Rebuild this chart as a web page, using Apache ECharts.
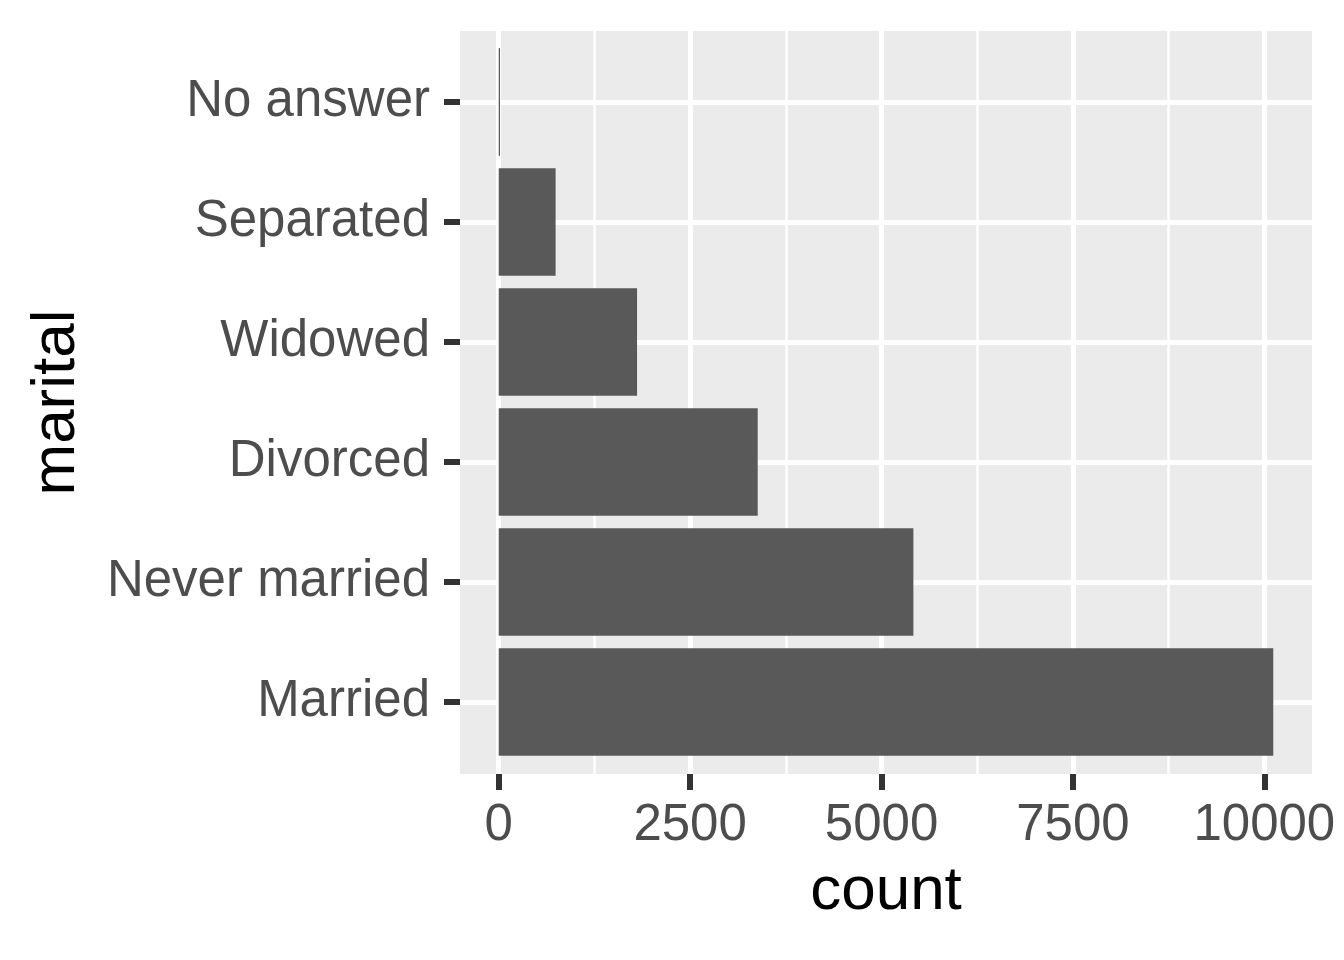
<!DOCTYPE html>
<html lang="en">
<head>
    <meta charset="UTF-8">
    <title>marital</title>
    <script src="https://cdn.jsdelivr.net/npm/echarts@6/dist/echarts.min.js"></script>
    <style>
        html, body { margin: 0; padding: 0; background: #fff; }
    </style>
</head>
<body>
<div id="main" style="width: 1344px;height:960px;"></div>
<script>
    // bottom to top, as ggplot puts the first level at the bottom
    const categories = ['Married', 'Never married', 'Divorced', 'Widowed', 'Separated', 'No answer'];
    const counts = [10117, 5416, 3383, 1807, 743, 17];
    const majorTicks = [0, 2500, 5000, 7500, 10000];

    // minor grid lines sit halfway between the major ones
    let minorTicks = [];
    for (let i = 0; i < majorTicks.length - 1; i++) {
        minorTicks.push((majorTicks[i] + majorTicks[i + 1]) / 2);
    }

    // ggplot default expansion: 5% of the data range each side
    const maxCount = Math.max(...counts);
    const pad = maxCount * 0.05;
    const xMin = 0 - pad;
    const xMax = maxCount + pad;

    const font = 'Liberation Sans, Arial, sans-serif';
    const tickColor = '#333333';
    const labelColor = '#4D4D4D';

    let chart = echarts.init(document.getElementById('main'));
    let option = {
        animation: false,
        grid: [
            // panel (background + x grid lines)
            {left: 460, top: 31, width: 852, height: 743, show: true,
                backgroundColor: '#EBEBEB', borderWidth: 0},
            // bars: first and last category centres
            {left: 460, top: 102, width: 852, height: 600}
        ],
        xAxis: [
            {
                type: 'value', gridIndex: 0, min: xMin, max: xMax,
                name: 'count', nameLocation: 'middle', nameGap: 87,
                nameTextStyle: {fontFamily: font, fontSize: 62, color: '#000'},
                axisLine: {show: false, onZero: false},
                axisTick: {show: true, length: 16, customValues: majorTicks,
                    lineStyle: {color: tickColor, width: 6}},
                axisLabel: {customValues: majorTicks, margin: 26,
                    formatter: function (v) { return String(v); },
                    fontFamily: font, fontSize: 51, color: labelColor},
                splitLine: {show: true, lineStyle: {color: '#fff', width: 5}}
            },
            {
                type: 'value', gridIndex: 0, min: xMin, max: xMax,
                axisLine: {show: false, onZero: false},
                axisTick: {show: false, customValues: minorTicks},
                axisLabel: {show: false, customValues: minorTicks},
                splitLine: {show: true, lineStyle: {color: '#fff', width: 2.5}}
            },
            {
                type: 'value', gridIndex: 1, min: xMin, max: xMax,
                show: false
            }
        ],
        yAxis: [
            {
                type: 'value', gridIndex: 0,
                name: 'marital', nameLocation: 'middle', nameGap: 372,
                nameTextStyle: {fontFamily: font, fontSize: 62, color: '#000'},
                axisLine: {show: false, onZero: false},
                axisTick: {show: false},
                axisLabel: {show: false},
                splitLine: {show: false}
            },
            {
                type: 'category', gridIndex: 1, data: categories,
                boundaryGap: false,
                axisLine: {show: false, onZero: false},
                axisTick: {show: true, length: 16,
                    lineStyle: {color: tickColor, width: 6}},
                axisLabel: {margin: 30, padding: [3, 0, 0, 0],
                    fontFamily: font, fontSize: 51, color: labelColor},
                splitLine: {show: true, lineStyle: {color: '#fff', width: 5}}
            }
        ],
        series: [
            {
                type: 'bar',
                xAxisIndex: 2,
                yAxisIndex: 1,
                barWidth: 107.7,
                itemStyle: {color: '#595959'},
                data: counts
            }
        ]
    };
    chart.setOption(option);
</script>
</body>
</html>
